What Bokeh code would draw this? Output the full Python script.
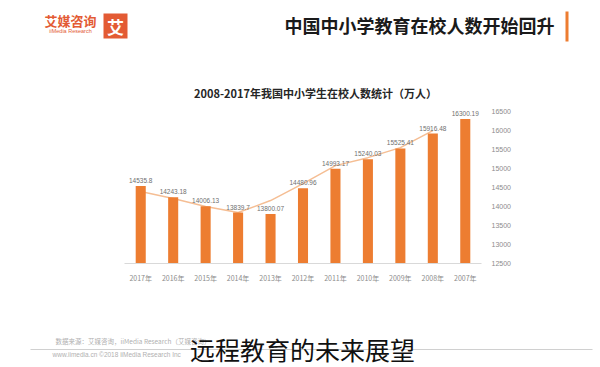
from bokeh.plotting import figure
from bokeh.layouts import column
from bokeh.models import FactorRange, Range1d, FixedTicker, Label, ColumnDataSource
from bokeh.embed import file_html
from bokeh.resources import INLINE
from bokeh.core.properties import value

# ---- data (as displayed, left to right) ----
years = ["2017年", "2016年", "2015年", "2014年", "2013年", "2012年",
         "2011年", "2010年", "2009年", "2008年", "2007年"]
students = [14535.8, 14243.18, 14006.13, 13839.7, 13800.07, 14480.96,
            14993.17, 15240.03, 15525.41, 15916.48, 16300.19]
trend_years = years[:10]
trend_vals = [14390, 14206, 13996, 13839, 14154, 14600, 15072, 15282, 15545, 15991]
y_ticks = [12500, 13000, 13500, 14000, 14500, 15000, 15500, 16000, 16500]

W = 598
CJK = "Noto Sans CJK SC"
H_HEAD, H_CHART, H_FOOT = 104, 184, 77


def no_align(f):
    if "frame_align" in f.properties():
        f.frame_align = False


def panel(h):
    f = figure(width=W, height=h, x_range=Range1d(0, W), y_range=Range1d(h, 0),
               output_backend="svg", toolbar_location=None,
               x_axis_location=None, y_axis_location=None,
               min_border=0, min_border_left=0, min_border_right=0,
               min_border_top=0, min_border_bottom=0)
    f.outline_line_color = None
    f.xgrid.visible = False
    f.ygrid.visible = False
    no_align(f)
    return f


def lab(f, top, text, px, py, size, color="#222", align="left", bold=False, font=CJK):
    f.add_layout(Label(x=px, y=py - top, text=text,
                       text_font_size=f"{size}px", text_color=color,
                       text_align=align, text_baseline="middle",
                       text_font_style="bold" if bold else "normal",
                       text_font=font))


def box(f, top, x0, x1, y0, y1, color):
    f.quad(left=x0, right=x1, top=y0 - top, bottom=y1 - top,
           fill_color=color, line_color=None)


# ---- header ----
hd = panel(H_HEAD)
box(hd, 0, 103, 127, 13, 38, "#E35B34")
lab(hd, 0, "艾", 115, 25.5, 17, "white", "center", True)
lab(hd, 0, "艾媒咨询", 70, 20, 13, "#E35B34", "center", True)
lab(hd, 0, "iiMedia Research", 70, 30, 5.5, "#E35B34", "center", False, "Liberation Sans")
lab(hd, 0, "中国中小学教育在校人数开始回升", 554, 24, 18, "#1a1a1a", "right", True)
box(hd, 0, 565, 568, 11, 41, "#ED7D31")
lab(hd, 0, "2008-2017年我国中小学生在校人数统计（万人）", 315, 92, 11, "#262626", "center", True)

# ---- chart ----
p = figure(width=W, height=H_CHART, x_range=FactorRange(*years),
           y_range=Range1d(12500, 16600), output_backend="svg",
           toolbar_location=None, y_axis_location="right",
           min_border_left=124, min_border_right=W - 481,
           min_border_top=3, min_border_bottom=25)
p.outline_line_color = None
p.xgrid.visible = False
p.ygrid.visible = False
no_align(p)

src = ColumnDataSource(dict(x=years, y=students, t=[str(v) for v in students]))
p.line(trend_years, trend_vals, line_color="#F5BE94", line_width=1.5)
p.vbar(x="x", top="y", bottom=12500, width=0.31, source=src,
       fill_color="#ED7D31", line_color=None)
p.text(x="x", y="y", text="t", source=src, text_align="center",
       text_baseline="bottom", y_offset=-3, text_font_size="6.5px",
       text_color="#6f6f6f", text_font=value("Liberation Sans"))

ya = p.yaxis[0]
ya.ticker = FixedTicker(ticks=y_ticks)
ya.axis_line_color = None
ya.major_tick_line_color = None
ya.minor_tick_line_color = None
ya.major_label_text_font_size = "7px"
ya.major_label_text_color = "#8c8c8c"
ya.major_label_text_font = "Liberation Sans"
ya.major_label_standoff = 4

xa = p.xaxis[0]
xa.axis_line_color = "#d9d9d9"
xa.major_tick_line_color = None
xa.minor_tick_line_color = None
xa.major_label_text_font_size = "7px"
xa.major_label_text_color = "#8c8c8c"
xa.major_label_text_font = CJK
xa.major_label_standoff = 3

# ---- footer ----
ft = panel(H_FOOT)
T = H_HEAD + H_CHART
box(ft, T, 30, 592, 348.5, 349.5, "#d0d0d0")
lab(ft, T, "数据来源：艾媒咨询，iiMedia Research（艾媒咨询）", 55, 340, 6.5, "#b0b0b0")
lab(ft, T, "www.iimedia.cn     ©2018 iiMedia Research Inc", 52, 354, 6.5, "#b0b0b0",
    font="Liberation Sans")
lab(ft, T, "远程教育的未来展望", 302, 348, 25, "#111111", "center", False)

layout = column(hd, p, ft, spacing=0)
open("out.html", "w").write(file_html(layout, INLINE))
